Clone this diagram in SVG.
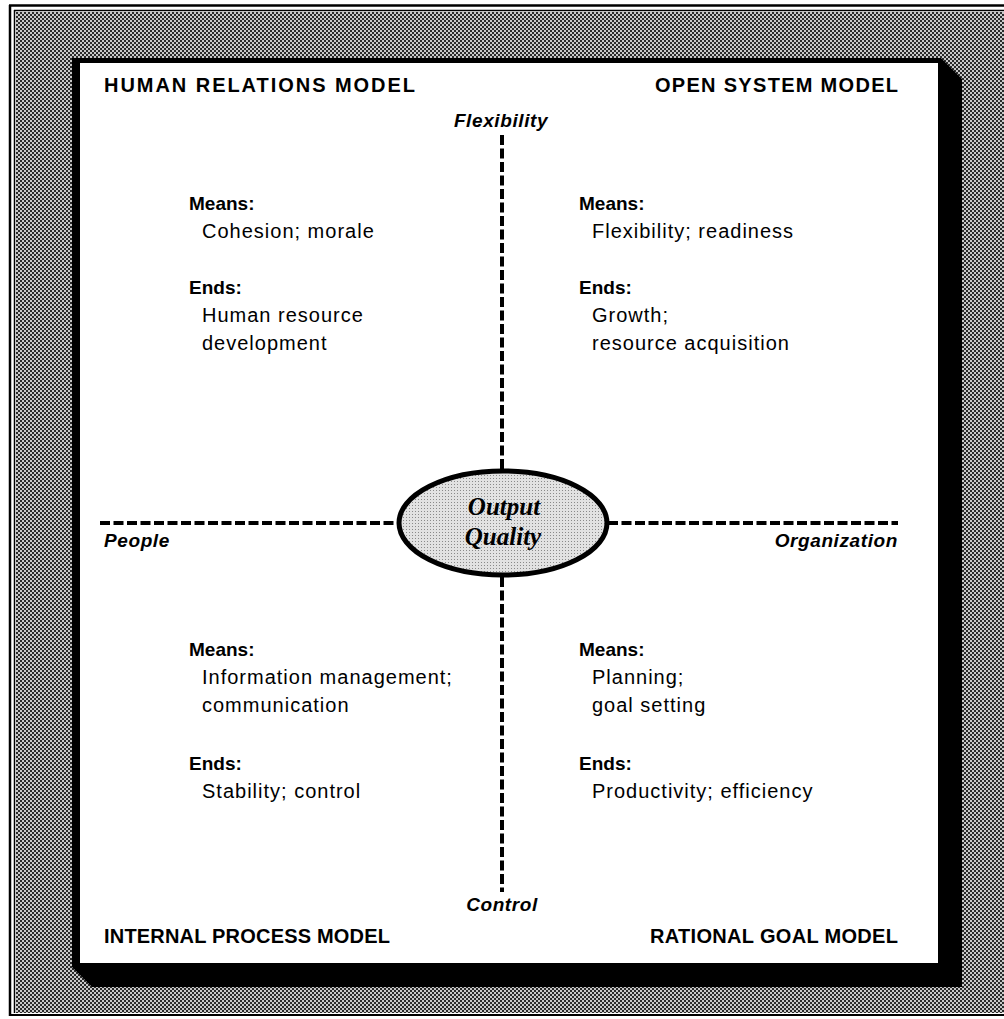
<svg xmlns="http://www.w3.org/2000/svg" width="1004" height="1019" viewBox="0 0 1004 1019">
<defs>
<pattern id="halftone" width="4" height="4" patternUnits="userSpaceOnUse">
<rect width="4" height="4" fill="#c8c8c8"/>
<rect width="2" height="2" fill="#2a2a2a"/>
<rect x="2" y="2" width="2" height="2" fill="#2a2a2a"/>
</pattern>
<pattern id="stipple" width="3" height="3" patternUnits="userSpaceOnUse">
<rect width="3" height="3" fill="#e2e2e2"/>
<rect x="1" y="1" width="1" height="1" fill="#8a8a8a"/>
</pattern>
</defs>
<style>
.head{font-family:"Liberation Sans",Arial,sans-serif;font-weight:bold;font-size:20px;fill:#000}
.lbl{font-family:"Liberation Sans",Arial,sans-serif;font-weight:bold;font-size:19px;fill:#000}
.body{font-family:"Liberation Sans",Arial,sans-serif;font-size:20px;letter-spacing:1px;fill:#000}
.axis{font-family:"Liberation Sans",Arial,sans-serif;font-weight:bold;font-style:italic;font-size:19px;letter-spacing:0.6px;fill:#000}
.ctr{font-family:"Liberation Serif","Times New Roman",serif;font-weight:bold;font-style:italic;font-size:25px;fill:#000}
.dash{stroke:#000;stroke-width:4;stroke-dasharray:10 3.5;fill:none}
</style>
<rect width="1004" height="1019" fill="#fff"/>
<g id="frame">
<rect x="16" y="12" width="988" height="1001" fill="url(#halftone)"/>
<line x1="10" y1="5" x2="10" y2="1016" stroke="#000" stroke-width="2.5"/>
<line x1="14.5" y1="10" x2="14.5" y2="1013" stroke="#000" stroke-width="1.5"/>
<line x1="9" y1="5.5" x2="1004" y2="5.5" stroke="#000" stroke-width="2.5"/>
<line x1="14" y1="10.5" x2="1004" y2="10.5" stroke="#000" stroke-width="1.5"/>
<line x1="9" y1="1015" x2="1004" y2="1015" stroke="#000" stroke-width="2"/>
</g>
<g id="panel">
<polygon points="72,58 941,58 962,79 962,987 92,987 72,967" fill="#000"/>
<rect x="80" y="63" width="858" height="900" fill="#fff"/>
</g>
<g id="connectors">
<line class="dash" x1="502" y1="135" x2="502" y2="470"/>
<line class="dash" x1="502" y1="577" x2="502" y2="892"/>
<line class="dash" x1="100" y1="523" x2="398" y2="523"/>
<line class="dash" x1="608" y1="523" x2="898" y2="523"/>
</g>
<g id="center">
<ellipse cx="503" cy="523" rx="104" ry="52" fill="url(#stipple)" stroke="#000" stroke-width="5"/>
<text class="ctr" x="504" y="515" text-anchor="middle">Output</text>
<text class="ctr" x="503" y="545" text-anchor="middle">Quality</text>
</g>
<g id="axis-labels">
<text class="axis" x="501" y="127" text-anchor="middle">Flexibility</text>
<text class="axis" x="502" y="911" text-anchor="middle">Control</text>
<text class="axis" x="104" y="547">People</text>
<text class="axis" x="898" y="547" text-anchor="end">Organization</text>
</g>
<g id="human-relations">
<text class="head" x="104" y="92" textLength="311" lengthAdjust="spacing">HUMAN RELATIONS MODEL</text>
<text class="lbl" x="189" y="210">Means:</text>
<text class="body" x="202" y="238">Cohesion; morale</text>
<text class="lbl" x="189" y="294">Ends:</text>
<text class="body" x="202" y="322">Human resource</text>
<text class="body" x="202" y="350">development</text>
</g>
<g id="open-system">
<text class="head" x="898" y="92" text-anchor="end" textLength="243" lengthAdjust="spacing">OPEN SYSTEM MODEL</text>
<text class="lbl" x="579" y="210">Means:</text>
<text class="body" x="592" y="238">Flexibility; readiness</text>
<text class="lbl" x="579" y="294">Ends:</text>
<text class="body" x="592" y="322">Growth;</text>
<text class="body" x="592" y="350">resource acquisition</text>
</g>
<g id="internal-process">
<text class="head" x="104" y="943" textLength="286" lengthAdjust="spacing">INTERNAL PROCESS MODEL</text>
<text class="lbl" x="189" y="656">Means:</text>
<text class="body" x="202" y="684">Information management;</text>
<text class="body" x="202" y="712">communication</text>
<text class="lbl" x="189" y="770">Ends:</text>
<text class="body" x="202" y="798">Stability; control</text>
</g>
<g id="rational-goal">
<text class="head" x="898" y="943" text-anchor="end" textLength="248" lengthAdjust="spacing">RATIONAL GOAL MODEL</text>
<text class="lbl" x="579" y="656">Means:</text>
<text class="body" x="592" y="684">Planning;</text>
<text class="body" x="592" y="712">goal setting</text>
<text class="lbl" x="579" y="770">Ends:</text>
<text class="body" x="592" y="798">Productivity; efficiency</text>
</g>
</svg>
